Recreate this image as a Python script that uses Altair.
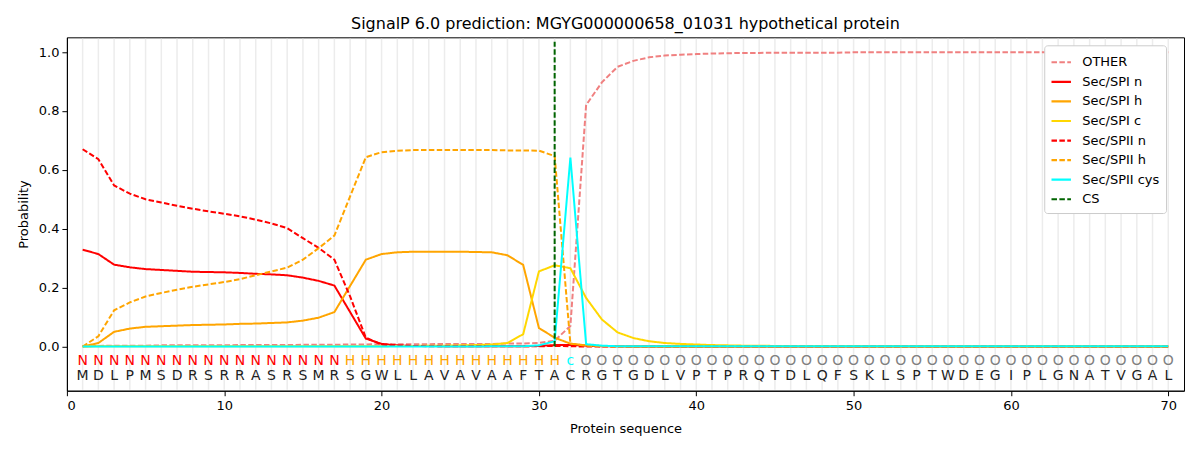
import altair as alt
import pandas as pd

positions = list(range(1, 71))
sequence = list("MDLPMSDRSRRASRSMRSGWLLAVAVAAFTACRGTGDLVPTPRQTDLQFSKLSPTWDEGIPLGNATVGAL")
region_labels = ["N"] * 17 + ["H"] * 14 + ["c"] + ["O"] * 38
region_colors = {"N": "#ff0000", "H": "#ffa500", "c": "#00ffff", "O": "#808080"}

other = [0.000, 0.002, 0.003, 0.003, 0.003, 0.004, 0.004, 0.004, 0.004, 0.004,
         0.005, 0.005, 0.005, 0.005, 0.006, 0.006, 0.006, 0.007, 0.007, 0.008,
         0.008, 0.008, 0.008, 0.009, 0.009, 0.009, 0.009, 0.010, 0.010, 0.012,
         0.020, 0.070, 0.820, 0.897, 0.950, 0.970, 0.982, 0.988, 0.991, 0.993,
         0.995, 0.996, 0.997, 0.997, 0.998, 0.998, 0.998, 0.998, 0.998, 0.999,
         0.999, 0.999, 0.999, 0.999, 0.999, 0.999, 0.999, 0.999, 0.999, 0.999,
         0.999, 0.999, 0.999, 0.999, 0.999, 0.999, 0.999, 0.999, 0.999, 0.999]
sp1_n = [0.329, 0.314, 0.278, 0.269, 0.263, 0.260, 0.257, 0.254, 0.253, 0.252,
         0.250, 0.247, 0.245, 0.242, 0.234, 0.223, 0.207, 0.117, 0.027, 0.009,
         0.004, 0.002, 0.002, 0.001, 0.001, 0.001, 0.001, 0.001, 0.001, 0.002,
         0.005, 0.005, 0.003, 0.001, 0.001, 0.000, 0.000, 0.000, 0.000, 0.000,
         0.000, 0.000, 0.000, 0.000, 0.000, 0.000, 0.000, 0.000, 0.000, 0.000,
         0.000, 0.000, 0.000, 0.000, 0.000, 0.000, 0.000, 0.000, 0.000, 0.000,
         0.000, 0.000, 0.000, 0.000, 0.000, 0.000, 0.000, 0.000, 0.000, 0.000]
sp1_h = [0.000, 0.012, 0.050, 0.061, 0.067, 0.069, 0.071, 0.073, 0.074, 0.075,
         0.077, 0.078, 0.080, 0.082, 0.088, 0.098, 0.117, 0.206, 0.295, 0.314,
         0.320, 0.322, 0.322, 0.322, 0.322, 0.321, 0.320, 0.310, 0.277, 0.063,
         0.030, 0.010, 0.004, 0.002, 0.001, 0.000, 0.000, 0.000, 0.000, 0.000,
         0.000, 0.000, 0.000, 0.000, 0.000, 0.000, 0.000, 0.000, 0.000, 0.000,
         0.000, 0.000, 0.000, 0.000, 0.000, 0.000, 0.000, 0.000, 0.000, 0.000,
         0.000, 0.000, 0.000, 0.000, 0.000, 0.000, 0.000, 0.000, 0.000, 0.000]
sp1_c = [0.000, 0.001, 0.001, 0.001, 0.001, 0.001, 0.001, 0.001, 0.001, 0.001,
         0.001, 0.001, 0.001, 0.001, 0.001, 0.001, 0.001, 0.001, 0.001, 0.001,
         0.002, 0.002, 0.003, 0.003, 0.004, 0.005, 0.007, 0.012, 0.042, 0.255,
         0.276, 0.266, 0.165, 0.092, 0.048, 0.029, 0.018, 0.012, 0.009, 0.007,
         0.005, 0.004, 0.003, 0.003, 0.002, 0.002, 0.002, 0.002, 0.002, 0.002,
         0.001, 0.001, 0.001, 0.001, 0.001, 0.001, 0.001, 0.001, 0.001, 0.001,
         0.001, 0.001, 0.001, 0.001, 0.001, 0.001, 0.001, 0.001, 0.001, 0.001]
sp2_n = [0.670, 0.636, 0.547, 0.519, 0.500, 0.489, 0.478, 0.468, 0.459, 0.451,
         0.442, 0.431, 0.418, 0.402, 0.368, 0.335, 0.295, 0.170, 0.030, 0.007,
         0.003, 0.002, 0.001, 0.001, 0.001, 0.001, 0.001, 0.001, 0.001, 0.001,
         0.002, 0.001, 0.000, 0.000, 0.000, 0.000, 0.000, 0.000, 0.000, 0.000,
         0.000, 0.000, 0.000, 0.000, 0.000, 0.000, 0.000, 0.000, 0.000, 0.000,
         0.000, 0.000, 0.000, 0.000, 0.000, 0.000, 0.000, 0.000, 0.000, 0.000,
         0.000, 0.000, 0.000, 0.000, 0.000, 0.000, 0.000, 0.000, 0.000, 0.000]
sp2_h = [0.000, 0.035, 0.123, 0.150, 0.170, 0.182, 0.193, 0.203, 0.211, 0.219,
         0.229, 0.242, 0.255, 0.268, 0.295, 0.334, 0.377, 0.510, 0.643, 0.660,
         0.665, 0.667, 0.667, 0.667, 0.667, 0.667, 0.667, 0.666, 0.666, 0.665,
         0.647, 0.010, 0.003, 0.001, 0.000, 0.000, 0.000, 0.000, 0.000, 0.000,
         0.000, 0.000, 0.000, 0.000, 0.000, 0.000, 0.000, 0.000, 0.000, 0.000,
         0.000, 0.000, 0.000, 0.000, 0.000, 0.000, 0.000, 0.000, 0.000, 0.000,
         0.000, 0.000, 0.000, 0.000, 0.000, 0.000, 0.000, 0.000, 0.000, 0.000]
sp2_cys = [0.000, 0.000, 0.000, 0.000, 0.000, 0.000, 0.000, 0.000, 0.000, 0.000,
           0.000, 0.000, 0.000, 0.000, 0.000, 0.000, 0.000, 0.000, 0.000, 0.000,
           0.000, 0.000, 0.000, 0.000, 0.000, 0.000, 0.001, 0.001, 0.001, 0.004,
           0.018, 0.642, 0.008, 0.003, 0.001, 0.001, 0.001, 0.001, 0.001, 0.001,
           0.001, 0.001, 0.001, 0.001, 0.001, 0.001, 0.001, 0.001, 0.001, 0.001,
           0.001, 0.001, 0.001, 0.001, 0.001, 0.001, 0.001, 0.001, 0.001, 0.001,
           0.001, 0.001, 0.001, 0.001, 0.001, 0.001, 0.001, 0.001, 0.001, 0.001]
cs_position = 31

series_names = ["OTHER", "Sec/SPI n", "Sec/SPI h", "Sec/SPI c",
                "Sec/SPII n", "Sec/SPII h", "Sec/SPII cys", "CS"]
series_colors = ["#f08080", "#ff0000", "#ffa500", "#ffd700",
                 "#ff0000", "#ffa500", "#00ffff", "#006400"]
series_dashes = [[5.5, 2.4], [1, 0], [1, 0], [1, 0],
                 [5.5, 2.4], [5.5, 2.4], [1, 0], [5.5, 2.4]]
series_values = [other, sp1_n, sp1_h, sp1_c, sp2_n, sp2_h, sp2_cys]

FONT = "DejaVu Sans"

color_scale = alt.Scale(domain=series_names, range=series_colors)
dash_scale = alt.Scale(domain=series_names, range=series_dashes)
legend = alt.Legend(
    title=None, orient="none", legendX=979, legendY=8,
    symbolType="stroke", symbolSize=380, symbolStrokeWidth=2.2,
    labelFont=FONT, labelFontSize=13, labelColor="black",
    fillColor="white", strokeColor="#cccccc", cornerRadius=3,
    padding=6, rowPadding=1.6, labelOffset=10,
)

x_scale = alt.Scale(domain=[0, 71], nice=False, zero=False)
y_scale = alt.Scale(domain=[-0.15, 1.05], nice=False, zero=False)

grid_df = pd.DataFrame({"pos": positions})
grid = alt.Chart(grid_df).mark_rule(color="#ececec", strokeWidth=1.5).encode(
    x=alt.X("pos:Q", scale=x_scale,
            axis=alt.Axis(values=list(range(0, 71, 10)), title="Protein sequence",
                          titlePadding=10, labelPadding=4, tickSize=5, format="d")),
    y=alt.value(1.5),
    y2=alt.value(353),
)

layers = [grid]
for name, vals in zip(series_names[:7], series_values):
    df = pd.DataFrame({"pos": positions, "prob": vals, "series": name})
    layers.append(
        alt.Chart(df).mark_line(strokeWidth=2).encode(
            x=alt.X("pos:Q", scale=x_scale),
            y=alt.Y("prob:Q", scale=y_scale,
                    axis=alt.Axis(values=[0, 0.2, 0.4, 0.6, 0.8, 1.0], format=".1f",
                                  title="Probability", titlePadding=8,
                                  labelPadding=3, tickSize=5)),
            color=alt.Color("series:N", scale=color_scale, legend=legend),
            strokeDash=alt.StrokeDash("series:N", scale=dash_scale, legend=legend),
        )
    )

cs_df = pd.DataFrame({"pos": [cs_position], "y0": [0.0], "y1": [1.035], "series": ["CS"]})
layers.append(
    alt.Chart(cs_df).mark_rule(strokeWidth=2).encode(
        x=alt.X("pos:Q", scale=x_scale),
        y=alt.Y("y0:Q", scale=y_scale),
        y2="y1:Q",
        color=alt.Color("series:N", scale=color_scale, legend=legend),
        strokeDash=alt.StrokeDash("series:N", scale=dash_scale, legend=legend),
    )
)

letters_df = pd.DataFrame({
    "pos": positions,
    "region": region_labels,
    "rcolor": [region_colors[r] for r in region_labels],
    "aa": sequence,
    "ry": [-0.048] * 70,
    "sy": [-0.10] * 70,
})
layers.append(
    alt.Chart(letters_df).mark_text(font=FONT, fontSize=14, baseline="middle").encode(
        x=alt.X("pos:Q", scale=x_scale),
        y=alt.Y("ry:Q", scale=y_scale),
        text="region:N",
        color=alt.Color("rcolor:N", scale=None),
    )
)
layers.append(
    alt.Chart(letters_df).mark_text(font=FONT, fontSize=14, baseline="middle",
                                    color="#222222").encode(
        x=alt.X("pos:Q", scale=x_scale),
        y=alt.Y("sy:Q", scale=y_scale),
        text="aa:N",
    )
)

chart = alt.layer(*layers).properties(
    width=1119, height=354,
    title=alt.TitleParams("SignalP 6.0 prediction: MGYG000000658_01031 hypothetical protein",
                          font=FONT, fontSize=16, fontWeight="normal", anchor="middle",
                          color="black", offset=5),
    autosize=alt.AutoSizeParams(type="none"),
    padding={"left": 59, "top": 29, "right": 8, "bottom": 50},
).configure_view(
    stroke="black", strokeWidth=1
).configure_axis(
    domainColor="black", tickColor="black", labelColor="black", titleColor="black",
    labelFont=FONT, titleFont=FONT, labelFontSize=13, titleFontSize=13,
    titleFontWeight="normal", grid=False,
)

chart.save("out.html", embed_options={"renderer": "svg", "actions": False})
